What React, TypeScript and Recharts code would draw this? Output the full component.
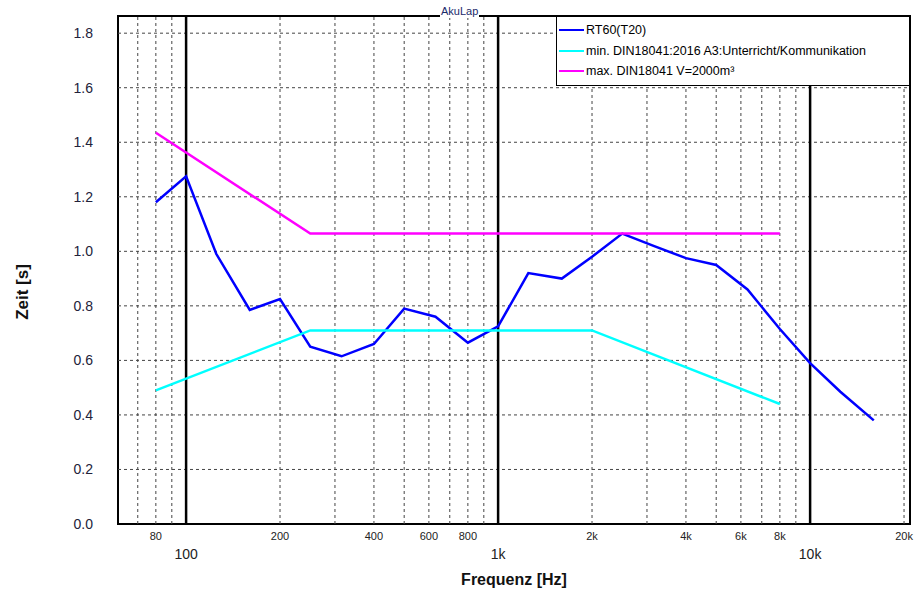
import React from 'react';
import {
  Label,
  Legend,
  Line,
  LineChart,
  ReferenceArea,
  ReferenceLine,
  XAxis,
  YAxis,
} from 'recharts';

const FONT = '"Liberation Sans", Arial, sans-serif';

// third-octave bands
const bands = [80, 100, 125, 160, 200, 250, 315, 400, 500, 630, 800, 1000, 1250, 1600, 2000, 2500, 3150, 4000, 5000, 6300, 8000, 10000, 12500, 16000];
const rt60 = [1.18, 1.275, 0.99, 0.785, 0.825, 0.65, 0.615, 0.66, 0.79, 0.76, 0.665, 0.725, 0.92, 0.9, 0.98, 1.065, 1.02, 0.975, 0.95, 0.86, 0.715, 0.59, 0.485, 0.38];

const minFreqs = [80, 250, 2000, 8000];
const minValues = [0.49, 0.71, 0.71, 0.44];

const maxFreqs = [80, 250, 8000];
const maxValues = [1.435, 1.065, 1.065];

const xTicks = [80, 100, 200, 400, 600, 800, 1000, 2000, 4000, 6000, 8000, 10000, 20000];
const majorLines = [100, 1000, 10000];
const minorLines = [70, 80, 90, 200, 300, 400, 500, 600, 700, 800, 900, 2000, 3000, 4000, 5000, 6000, 7000, 8000, 9000, 20000];
const yTicks = [0, 0.2, 0.4, 0.6, 0.8, 1.0, 1.2, 1.4, 1.6, 1.8];

const X_DOMAIN: [number, number] = [60.5, 20900];
const Y_DOMAIN: [number, number] = [0, 1.863];

const rtData = bands.map((f, i) => ({ f, v: rt60[i] }));
const minData = minFreqs.map((f, i) => ({ f, v: minValues[i] }));
const maxData = maxFreqs.map((f, i) => ({ f, v: maxValues[i] }));

const series = [
  { name: 'RT60(T20)', color: '#0000ff', data: rtData },
  { name: 'min. DIN18041:2016 A3:Unterricht/Kommunikation', color: '#00ffff', data: minData },
  { name: 'max. DIN18041 V=2000m³', color: '#ff00ff', data: maxData },
];

const fmtFreq = (v: number) => (v >= 1000 ? `${v / 1000}k` : `${v}`);

const XTick = (props: any) => {
  const { x, y, payload } = props;
  const major = majorLines.includes(payload.value);
  return (
    <text
      x={x}
      y={y + (major ? 27 : 8)}
      textAnchor="middle"
      fontSize={major ? 14 : 11}
      fontFamily={FONT}
      fill="#222"
    >
      {fmtFreq(payload.value)}
    </text>
  );
};

const LegendBox = () => (
  <div
    style={{
      boxSizing: 'border-box',
      width: 354,
      height: 70,
      border: '1.5px solid #000',
      background: '#fff',
      padding: '3px 0 0 2px',
      fontFamily: FONT,
      fontSize: 12.5,
      color: '#000',
    }}
  >
    {series.map(s => (
      <div key={s.name} style={{ display: 'flex', alignItems: 'center', height: 20.5 }}>
        <span style={{ display: 'inline-block', width: 25, height: 2, background: s.color, marginRight: 2 }} />
        <span>{s.name}</span>
      </div>
    ))}
  </div>
);

export default function App() {
  return (
    <div style={{ position: 'absolute', left: 0, top: 0, width: 920, height: 591, background: '#fff', fontFamily: FONT }}>
      <LineChart width={920} height={591} margin={{ top: 16, right: 10, left: 0, bottom: 0 }}>
        <XAxis
          type="number"
          dataKey="f"
          scale="log"
          domain={X_DOMAIN}
          allowDataOverflow
          ticks={xTicks}
          interval={0}
          tick={<XTick />}
          tickLine={false}
          axisLine={false}
          height={67}
        >
          <Label
            content={(p: any) => {
              const vb = p.viewBox;
              return (
                <text x={vb.x + vb.width / 2} y={vb.y + 61} textAnchor="middle" fontSize={16} fontWeight="bold" fontFamily={FONT} fill="#111">
                  Frequenz [Hz]
                </text>
              );
            }}
          />
        </XAxis>
        <YAxis
          type="number"
          domain={Y_DOMAIN}
          allowDataOverflow
          ticks={yTicks}
          interval={0}
          tickFormatter={(v: number) => v.toFixed(1)}
          tick={{ fontSize: 14, fill: '#22223a', fontFamily: FONT }}
          tickLine={false}
          axisLine={false}
          tickMargin={19}
          width={118}
        >
          <Label
            content={(p: any) => {
              const vb = p.viewBox;
              const cx = vb.x + 22;
              const cy = vb.y + vb.height / 2 + 22;
              return (
                <text
                  x={cx}
                  y={cy}
                  transform={`rotate(-90, ${cx}, ${cy})`}
                  textAnchor="middle"
                  dominantBaseline="central"
                  fontSize={17}
                  fontWeight="bold"
                  fontFamily={FONT}
                  fill="#111"
                >
                  Zeit [s]
                </text>
              );
            }}
          />
        </YAxis>

        {yTicks.slice(1).map(v => (
          <ReferenceLine key={`h${v}`} y={v} stroke="#444" strokeDasharray="3 3" strokeWidth={1} />
        ))}
        {minorLines.map(v => (
          <ReferenceLine key={`v${v}`} x={v} stroke="#444" strokeDasharray="3 3" strokeWidth={1} />
        ))}
        {majorLines.map(v => (
          <ReferenceLine key={`m${v}`} x={v} stroke="#000" strokeWidth={2.5} />
        ))}

        {series.map(s => (
          <Line
            key={s.name}
            data={s.data}
            dataKey="v"
            name={s.name}
            type="linear"
            stroke={s.color}
            strokeWidth={2.5}
            dot={false}
            activeDot={false}
            isAnimationActive={false}
          />
        ))}

        <ReferenceArea
          x1={X_DOMAIN[0]}
          x2={X_DOMAIN[1]}
          y1={Y_DOMAIN[0]}
          y2={Y_DOMAIN[1]}
          fill="none"
          fillOpacity={0}
          stroke="#000"
          strokeWidth={2}
        />

        <Legend
          layout="horizontal"
          verticalAlign="middle"
          align="center"
          content={<LegendBox />}
          wrapperStyle={{ position: 'absolute', left: 556, top: 16, width: 354, height: 70 }}
        />
      </LineChart>
      <div
        style={{
          position: 'absolute',
          left: 440,
          top: 4,
          padding: '0 1px',
          background: '#fff',
          fontSize: 11,
          lineHeight: '14px',
          color: '#1a2a6a',
          fontFamily: FONT,
        }}
      >
        AkuLap
      </div>
    </div>
  );
}
